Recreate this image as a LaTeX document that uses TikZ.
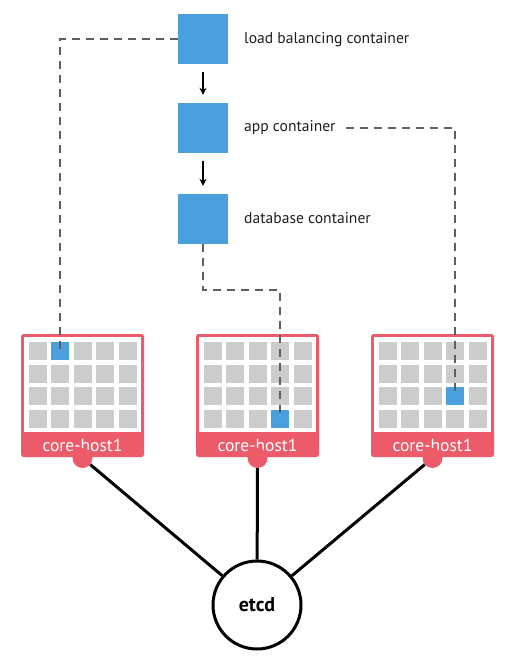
\documentclass[tikz,border=0pt]{standalone}
\usepackage{fontspec}
\setmainfont{PT Sans}
\usetikzlibrary{arrows.meta}
\definecolor{cblue}{RGB}{74,160,220}
\definecolor{cred}{RGB}{236,91,106}
\definecolor{cgrey}{RGB}{204,204,204}
\definecolor{cdash}{RGB}{95,95,95}
\definecolor{ctext}{RGB}{30,30,30}
\tikzset{
  container/.style={fill=cblue, minimum size=50pt, inner sep=0pt},
  clabel/.style={anchor=west, inner sep=0pt, text=ctext, font=\fontsize{15.6}{17}\selectfont},
  hostframe/.style={fill=cred, rounded corners=2.5pt, minimum width=123pt, minimum height=123pt, inner sep=0pt},
  hostinner/.style={fill=white, minimum width=117pt, minimum height=95pt, inner sep=0pt},
  hostlabel/.style={text=white, inner sep=0pt, font=\fontsize{17.5}{19}\selectfont},
  cell/.style={fill=cgrey, minimum size=18pt, inner sep=0pt},
  busy/.style={fill=cblue, minimum size=18pt, inner sep=0pt},
  bump/.style={circle, fill=cred, minimum size=20pt, inner sep=0pt},
  link/.style={line width=3pt, black},
  dashlink/.style={draw=cdash, line width=2.2pt, dash pattern=on 8pt off 6pt},
  flow/.style={line width=1.5pt, -{Stealth[length=7pt,width=7pt]}, shorten <=8pt, shorten >=8pt},
  etcdnode/.style={circle, draw=black, line width=3pt, fill=white, minimum size=88pt, inner sep=0pt, font=\bfseries\fontsize{20}{22}\selectfont}
}
\begin{document}
\begin{tikzpicture}[x=1pt,y=-1pt]
\useasboundingbox (0,0) rectangle (513,661);

% containers
\node[container] (lb) at (203,39) {};
\node[container] (app) at (203,128) {};
\node[container] (db) at (203,219) {};
\node[clabel] (lbl) at (244,40) {load balancing container};
\node[clabel] (appl) at (244,128) {app container};
\node[clabel] (dbl) at (244,218) {database container};
\draw[flow] (lb) -- (app);
\draw[flow] (app) -- (db);

% hosts
\foreach \i/\x in {1/82.5,2/257.5,3/432.5}{
  \node[hostframe] (h\i) at (\x,395.5) {};
  \node[hostinner] (hi\i) at (\x,384.5) {};
  \node[hostlabel] (hl\i) at (\x,445) {core-host1};
  \node[bump] (b\i) at (\x,458) {};
  \foreach \c in {0,...,4}{
    \foreach \r in {0,...,3}{
      \node[cell] (h\i-\c-\r) at ({\x-45+22.5*\c},{351+22.7*\r}) {};
    }
  }
}
\node[busy] (c1) at (h1-1-0) {};
\node[busy] (c2) at (h2-3-3) {};
\node[busy] (c3) at (h3-3-2) {};

% etcd
\node[etcdnode] (etcd) at (257,605) {etcd};
\draw[link] (b1) -- (etcd);
\draw[link] (b2) -- (etcd);
\draw[link] (b3) -- (etcd);

% dashed placement lines
\draw[dashlink] (lb.west) -| (c1.center);
\draw[dashlink] ([xshift=10pt]appl.east) -| (c3.center);
\coordinate (turn) at (203,290);
\draw[dashlink] (db.south) -- (turn) -| (c2.center);
\end{tikzpicture}
\end{document}
